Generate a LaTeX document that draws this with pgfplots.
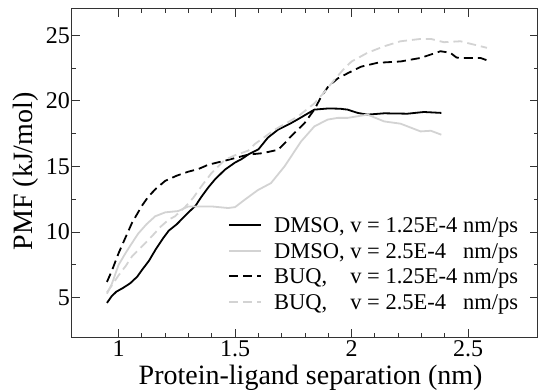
\documentclass[border=0pt]{standalone}
\usepackage{fontspec}
\setmainfont{LiberationSerif}[Extension=.ttf, UprightFont=*-Regular, BoldFont=*-Bold, ItalicFont=*-Italic, BoldItalicFont=*-BoldItalic]
\usepackage{pgfplots}
\pgfplotsset{compat=1.18}
\definecolor{lg}{RGB}{211,211,211}
\begin{document}
\begin{tikzpicture}
\path[use as bounding box] (0,0) rectangle (539pt,389pt);
\begin{axis}[
 at={(72pt,52pt)}, anchor=south west,
 scale only axis, width=466pt, height=328pt,
 xmin=0.8, xmax=2.8, ymin=2, ymax=27,
 xtick={1,1.5,2,2.5}, ytick={5,10,15,20,25},
 xticklabels={1,1.5,2,2.5}, yticklabels={5,10,15,20,25},
 minor x tick num=4, minor y tick num=1,
 tick align=inside, xtick pos=both, ytick pos=both,
 major tick length=8pt, minor tick length=4pt,
 axis line style={line width=1pt, black!80},
 tick style={line width=0.9pt, black!80},
 ticklabel style={font=\fontsize{24}{28}\selectfont},
 yticklabel style={inner xsep=2pt},
 label style={font=\fontsize{28}{32}\selectfont},
 xlabel={Protein-ligand separation (nm)},
 ylabel={PMF (kJ/mol)},
 xlabel style={at={(axis description cs:0.512,0)}, anchor=base, yshift=-47pt},
 ylabel style={at={(axis description cs:-0.0837,0.505)}, anchor=base},
 legend style={draw=none, fill=none, at={(axis description cs:0.335,0.380)}, anchor=north west,
   font=\fontsize{22.5}{26}\selectfont, row sep=0pt, column sep=12pt, inner sep=0pt,
   nodes={inner sep=0pt, text height=20pt, text depth=5.5pt}},
 legend cell align=left,
 legend image code/.code={\draw[#1] (0pt,0pt) -- (32pt,0pt);},
]
\addplot[black, line width=1.8pt] coordinates {
(0.95,4.6) (0.97,5.1) (0.99,5.45) (1.02,5.75) (1.05,6.1) (1.08,6.6) (1.1,7.1) (1.13,7.8)
(1.16,8.7) (1.19,9.5) (1.215,10.1) (1.25,10.6) (1.3,11.5) (1.33,12.0) (1.356,12.7)
(1.385,13.4) (1.413,14.0) (1.456,14.75) (1.5,15.3) (1.527,15.55) (1.56,15.95) (1.6,16.3)
(1.641,17.2) (1.684,17.8) (1.74,18.3) (1.77,18.6) (1.84,19.33) (1.9,19.42) (1.95,19.4)
(1.983,19.33) (2.026,19.08) (2.068,18.95) (2.14,19.05) (2.24,19.02) (2.31,19.15) (2.385,19.08)
};
\addlegendentry{\makebox[3.14em][l]{DMSO,} v = \makebox[3.2em][l]{1.25E-4} nm/ps}
\addplot[lg, line width=1.8pt] coordinates {
(0.95,5.3) (0.97,6.0) (1.0,7.5) (1.03,8.4) (1.057,9.15) (1.085,9.9) (1.12,10.6) (1.157,11.2)
(1.2,11.5) (1.256,11.6) (1.299,11.95) (1.4,11.95) (1.47,11.83) (1.5,11.9) (1.541,12.46)
(1.598,13.2) (1.654,13.73) (1.712,15.0) (1.783,16.9) (1.84,18.05) (1.897,18.57) (1.94,18.7)
(1.983,18.7) (2.068,18.95) (2.14,18.43) (2.21,18.26) (2.296,17.67) (2.34,17.72) (2.385,17.42)
};
\addlegendentry{\makebox[3.14em][l]{DMSO,} v = \makebox[3.2em][l]{2.5E-4} nm/ps}
\addplot[black, line width=1.8pt, dash pattern=on 9pt off 5pt] coordinates {
(0.95,6.2) (0.97,7.0) (1.0,8.39) (1.03,9.6) (1.057,10.68) (1.1,12.0) (1.128,12.71) (1.16,13.3)
(1.2,13.9) (1.25,14.3) (1.299,14.6) (1.342,14.8) (1.385,15.13) (1.47,15.5) (1.556,15.9)
(1.612,16.0) (1.641,16.1) (1.684,16.27) (1.72,16.9) (1.74,17.3) (1.798,18.3) (1.84,19.33)
(1.869,20.3) (1.9,21.1) (1.94,21.7) (1.983,22.1) (2.04,22.6) (2.111,22.9) (2.21,23.0)
(2.296,23.27) (2.382,23.78) (2.424,23.66) (2.45,23.3) (2.467,23.27) (2.553,23.27) (2.595,23.0)
};
\addlegendentry{\makebox[3.14em][l]{BUQ,} v = \makebox[3.2em][l]{1.25E-4} nm/ps}
\addplot[lg, line width=1.8pt, dash pattern=on 9pt off 5pt] coordinates {
(0.95,5.4) (0.97,5.9) (1.0,6.7) (1.03,7.4) (1.057,8.13) (1.1,8.9) (1.142,9.66) (1.18,10.4)
(1.214,10.93) (1.242,11.2) (1.285,11.9) (1.32,12.6) (1.356,13.5) (1.399,14.5) (1.427,15.0)
(1.456,15.5) (1.499,15.85) (1.556,16.2) (1.584,16.7) (1.67,17.8) (1.769,18.8) (1.84,19.8)
(1.88,20.6) (1.926,21.6) (1.97,22.5) (2.0,23.0) (2.068,23.66) (2.14,24.16) (2.21,24.54)
(2.296,24.72) (2.34,24.72) (2.396,24.47) (2.467,24.54) (2.524,24.29) (2.581,24.04)
};
\addlegendentry{\makebox[3.14em][l]{BUQ,} v = \makebox[3.2em][l]{2.5E-4} nm/ps}
\end{axis}
\end{tikzpicture}
\end{document}
